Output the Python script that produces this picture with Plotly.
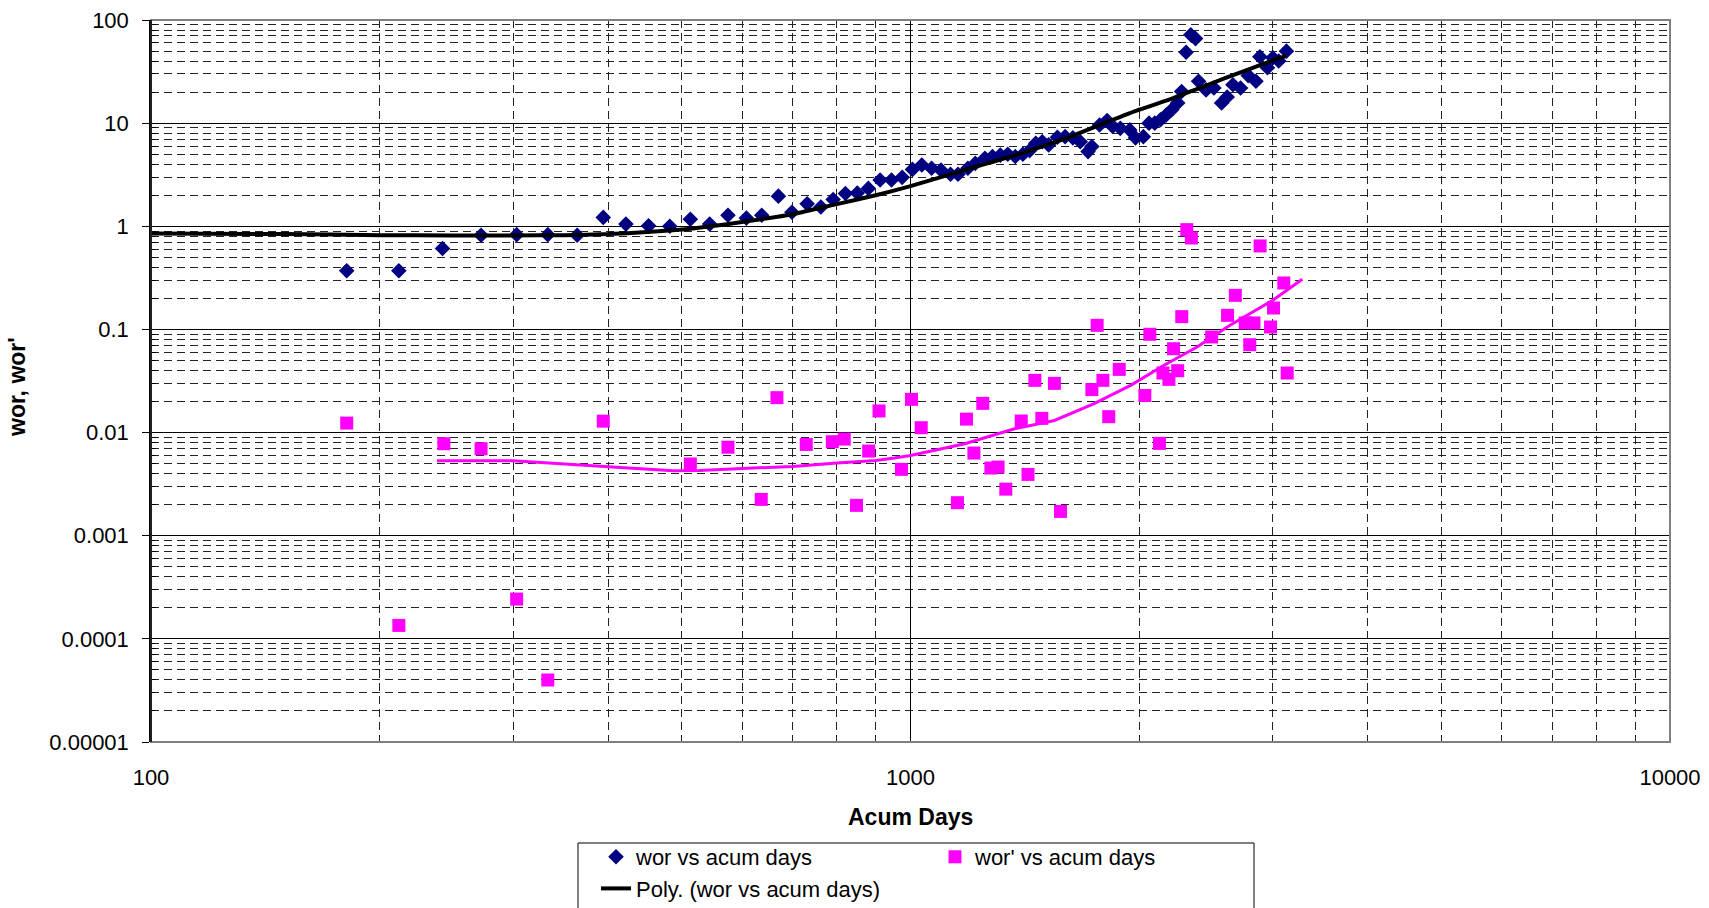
import plotly.graph_objects as go

# --- data -------------------------------------------------------------
acum_days = [181, 212, 242, 272, 303, 333, 364, 394, 422, 452, 482, 513, 544, 575,
             608, 637, 670, 698, 731, 762, 791, 821, 851, 880, 912, 944, 975, 1006,
             1035, 1066, 1097, 1129, 1155, 1190, 1217, 1253, 1282, 1313, 1343, 1374,
             1406, 1435, 1462, 1491, 1520, 1561, 1598, 1636, 1673, 1713, 1733, 1774,
             1815, 1846, 1889, 1944, 1978, 2026, 2061, 2097, 2134, 2171, 2208, 2248,
             2275, 2306, 2339, 2373, 2395, 2450, 2509, 2568, 2612, 2658, 2720, 2784,
             2850, 2884, 2951, 3000, 3054, 3126]
wor = [0.37, 0.37, 0.61, 0.82, 0.83, 0.83, 0.82, 1.22, 1.05, 1.01, 1.00, 1.17, 1.05, 1.28,
       1.20, 1.28, 1.96, 1.37, 1.65, 1.54, 1.82, 2.08, 2.10, 2.33, 2.81, 2.81, 2.98, 3.56,
       3.93, 3.65, 3.5, 3.2, 3.2, 3.65, 4.07, 4.56, 4.75, 4.9, 5.0, 4.75,
       5.0, 5.42, 6.38, 6.6, 6.15, 7.3, 7.4, 7.2, 6.6, 5.3, 5.93, 9.6,
       10.6, 9.3, 8.9, 8.6, 7.2, 7.4, 10.0, 10.0, 10.8, 12.0, 13.5, 15.7,
       20.3, 48.7, 72.0, 66.0, 25.5, 21.0, 21.9, 15.7, 17.9, 23.6, 21.9, 28.9,
       25.5, 44.0, 34.4, 43.0, 40.0, 49.9]

acum_days_d = [181, 212, 243, 272, 303, 333, 394, 513, 575, 636, 667, 729, 789, 818,
               849, 881, 909, 973, 1003, 1033, 1153, 1185, 1212, 1245, 1276, 1304, 1335,
               1399, 1428, 1458, 1489, 1547, 1576, 1733, 1761, 1792, 1824, 1883, 2035,
               2066, 2127, 2150, 2189, 2220, 2248, 2276, 2311, 2343, 2492, 2615, 2677,
               2759, 2797, 2833, 2886, 2979, 3006, 3101, 3133]
wor_prime = [0.01236, 0.000135, 0.0078, 0.00697, 0.000243, 0.0000399, 0.0129, 0.00496,
             0.00721, 0.00225, 0.0218, 0.00768, 0.00815, 0.00865, 0.00197, 0.00662,
             0.0162, 0.0044, 0.021, 0.01115, 0.00209, 0.0135, 0.00633, 0.0192, 0.00453,
             0.00463, 0.00283, 0.01294, 0.00393, 0.0321, 0.01374, 0.030, 0.00172, 0.0261,
             0.1096, 0.0321, 0.01426, 0.041, 0.0229, 0.0897, 0.00786, 0.0378, 0.0328,
             0.065, 0.0398, 0.133, 0.928, 0.77, 0.0845, 0.137, 0.214, 0.1155, 0.0711,
             0.1155, 0.645, 0.1056, 0.1614, 0.282, 0.0378]

# polynomial trend of wor
trend_x = [100, 150, 200, 250, 300, 350, 400, 450, 500, 546, 600, 700, 800, 900, 1000,
           1200, 1400, 1600, 1800, 2000, 2200, 2400, 2600, 2800, 3000, 3126]
trend_y = [0.85, 0.84, 0.82, 0.815, 0.815, 0.82, 0.84, 0.88, 0.93, 1.0, 1.1, 1.31, 1.64,
           2.0, 2.45, 3.65, 5.1, 7.1, 10.0, 13.5, 17.1, 21.9, 27.4, 33.6, 40.5, 45.0]

# trend of wor'
trend_d_x = [238, 300, 400, 487, 527, 600, 700, 800, 900, 952, 1000, 1179, 1371, 1547,
             1742, 1949, 2157, 2384, 2634, 3000, 3280]
trend_d_y = [0.00533, 0.00533, 0.00467, 0.00427, 0.0043, 0.00446, 0.0047, 0.00506,
             0.00537, 0.00566, 0.0060, 0.0078, 0.0109, 0.0131, 0.019, 0.0287, 0.0449,
             0.0676, 0.1096, 0.1915, 0.306]

x_ticks = [100, 1000, 10000]
x_tick_text = ["100", "1000", "10000"]
y_ticks = [100, 10, 1, 0.1, 0.01, 0.001, 0.0001, 0.00001]
y_tick_text = ["100", "10", "1", "0.1", "0.01", "0.001", "0.0001", "0.00001"]

x_minor = [k * 10 ** n for n in (2, 3) for k in range(2, 10)]
y_minor = [k * 10.0 ** n for n in range(-5, 2) for k in range(2, 10)]

FONT = "Arial, 'Liberation Sans', sans-serif"
NAVY = "#000080"
MAGENTA = "#FF00FF"

# --- figure -----------------------------------------------------------
fig = go.Figure()

fig.add_trace(go.Scatter(
    x=acum_days, y=wor, mode="markers", name="wor vs acum days",
    marker=dict(symbol="diamond", size=12, color=NAVY, line=dict(width=0)),
    legend="legend",
))
fig.add_trace(go.Scatter(
    x=acum_days_d, y=wor_prime, mode="markers", name="wor' vs acum days",
    marker=dict(symbol="square", size=13, color=MAGENTA, line=dict(width=0)),
    legend="legend2",
))
fig.add_trace(go.Scatter(
    x=trend_x, y=trend_y, mode="lines", name="Poly. (wor vs acum days)",
    line=dict(color="black", width=4, shape="spline", smoothing=0.6),
    legend="legend",
))
fig.add_trace(go.Scatter(
    x=trend_d_x, y=trend_d_y, mode="lines", showlegend=False,
    line=dict(color=MAGENTA, width=3),
))

# plot-area geometry in pixels
W, H = 1709, 908
L, R, T, B = 151, 39, 20, 166
pw, ph = W - L - R, H - T - B


def px_x(p):
    return (p - L) / pw


def px_y(p):
    return (H - B - p) / ph


dash = "8px,5px"

fig.update_layout(
    width=W, height=H, autosize=False,
    margin=dict(l=L, r=R, t=T, b=B, pad=0, autoexpand=False),
    paper_bgcolor="white", plot_bgcolor="white",
    font=dict(family=FONT, size=22, color="black"),
    xaxis=dict(
        type="log", range=[2, 4],
        tickmode="array", tickvals=x_ticks, ticktext=x_tick_text,
        ticks="", showline=False, zeroline=False,
        showgrid=True, gridcolor="#000000", gridwidth=1,
        minor=dict(tickmode="array", tickvals=x_minor, showgrid=True,
                   gridcolor="#222222", gridwidth=1, griddash=dash, ticks=""),
        ticklabelstandoff=20,
        tickfont=dict(size=22),
    ),
    yaxis=dict(
        type="log", range=[-5, 2],
        tickmode="array", tickvals=y_ticks, ticktext=y_tick_text,
        ticks="outside", ticklen=7, tickwidth=1, tickcolor="black",
        showline=True, linecolor="black", linewidth=1.5, zeroline=False,
        showgrid=True, gridcolor="#000000", gridwidth=1,
        minor=dict(tickmode="array", tickvals=y_minor, showgrid=True,
                   gridcolor="#222222", gridwidth=1, griddash=dash,
                   ticks="inside", ticklen=5, tickcolor="black"),
        ticklabelstandoff=9,
        tickfont=dict(size=22),
    ),
    legend=dict(
        x=px_x(596), y=px_y(836), xanchor="left", yanchor="top",
        orientation="v", bgcolor="rgba(0,0,0,0)", borderwidth=0,
        font=dict(family=FONT, size=22), itemwidth=30, tracegroupgap=0,
    ),
    legend2=dict(
        x=px_x(935), y=px_y(836), xanchor="left", yanchor="top",
        orientation="v", bgcolor="rgba(0,0,0,0)", borderwidth=0,
        font=dict(family=FONT, size=22), itemwidth=30,
    ),
    shapes=[
        # plot-area frame
        dict(type="rect", xref="paper", yref="paper", x0=0, y0=0, x1=1, y1=1,
             line=dict(color="#808080", width=2), layer="above"),
        # legend frame
        dict(type="rect", xref="paper", yref="paper",
             x0=px_x(578), x1=px_x(1254), y0=px_y(843), y1=px_y(915),
             line=dict(color="black", width=1), fillcolor="rgba(0,0,0,0)"),
    ],
    annotations=[
        dict(text="<b>Acum Days</b>", xref="paper", yref="paper",
             x=px_x(910), y=px_y(817), xanchor="center", yanchor="middle",
             showarrow=False, font=dict(family=FONT, size=23)),
        dict(text="<b>wor, wor'</b>", xref="paper", yref="paper",
             x=px_x(17), y=px_y(387), xanchor="center", yanchor="middle",
             textangle=-90, showarrow=False, font=dict(family=FONT, size=23)),
    ],
)

# keep the left axis in black over the grey frame
fig.add_shape(type="line", xref="paper", yref="paper", x0=0, x1=0, y0=0, y1=1,
              line=dict(color="black", width=1.5), layer="above")

fig.write_html("out.html")
